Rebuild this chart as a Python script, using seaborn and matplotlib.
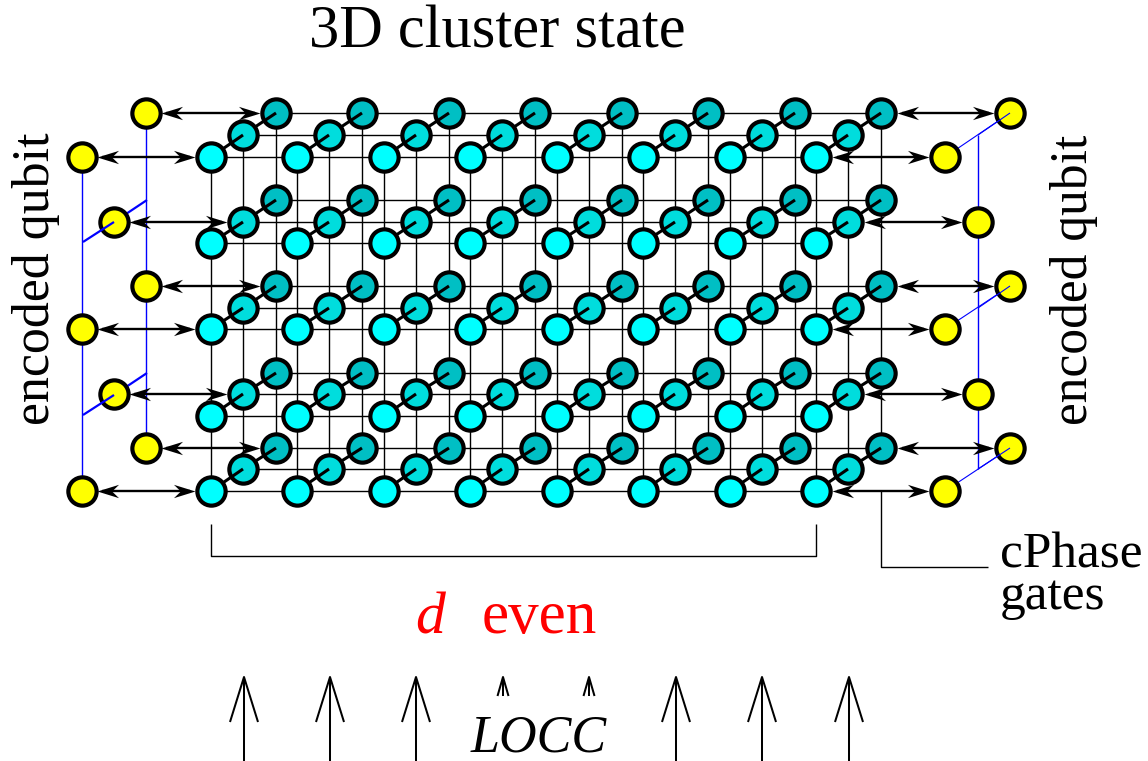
import numpy as np
import pandas as pd
import matplotlib.pyplot as plt
from matplotlib.path import Path
import seaborn as sns

# lattice, in image pixels
front_cols = [211, 297, 384, 470, 557, 643, 730, 816]
depth_dx = [0, 32, 65]
front_rows = [157, 243, 329, 416, 491]
mid_rows = [135, 222, 308, 394, 469]
back_rows = [113, 200, 286, 373, 448]
rows_by_depth = [front_rows, mid_rows, back_rows]
node_colors = ['#00ffff', '#00dddd', '#00bfc4']

left_yellow_x = [82, 114, 146]
right_yellow_x = [945, 978, 1010]
yellow_rows = [[0, 2, 4], [1, 3], [0, 2, 4]]

long_arrow_x = [244, 330, 416, 676, 762, 849]
short_arrow_x = [503, 589]

sns.set_theme(style='white')
plt.rcParams['font.family'] = ['Liberation Serif', 'DejaVu Serif']

fig = plt.figure(figsize=(11.48, 7.61), dpi=100)
ax = fig.add_axes([0, 0, 1, 1])
ax.set_xlim(0, 1148)
ax.set_ylim(761, 0)
ax.axis('off')

NODE_S = 415
NODE_LW = 3.0
GRID_LW = 1.0
BLUE = '#0000ff'

# stealth arrow heads, tip at the origin
head_r = Path([(0, 0), (-1, 0.31), (-0.68, 0), (-1, -0.31), (0, 0)], closed=True)
head_l = Path([(0, 0), (1, 0.31), (0.68, 0), (1, -0.31), (0, 0)], closed=True)


def line(xs, ys, z, color='black', lw=GRID_LW):
    ax.plot(xs, ys, color=color, lw=lw, zorder=z, solid_capstyle='butt')


def nodes(xs, ys, color, z):
    df = pd.DataFrame({'x': xs, 'y': ys})
    sns.scatterplot(data=df, x='x', y='y', s=NODE_S, color=color, edgecolor='black',
                    linewidth=NODE_LW, zorder=z, ax=ax, clip_on=False)


# grid of every layer
for d, rows in enumerate(rows_by_depth):
    cols = [c + depth_dx[d] for c in front_cols]
    for y in rows:
        line([cols[0], cols[-1]], [y, y], 1)
    for x in cols:
        line([x, x], [rows[0], rows[-1]], 1)

# blue encoded-qubit links
line([left_yellow_x[0]] * 2, [157, 491], 1.5, BLUE, 1.0)
line([left_yellow_x[2]] * 2, [113, 448], 1.5, BLUE, 1.0)
line([right_yellow_x[1]] * 2, [135, 469], 1.5, BLUE, 1.0)
for y in [222, 395]:
    line([114, 147], [y, y - 22], 1.5, BLUE, 1.6)
for y0, y1 in [(157, 113), (329, 286), (491, 448)]:
    line([945, 1010], [y0, y1], 1.5, BLUE, 0.8)

# layers back to front, with the diagonal bonds between them
cols_back = [c + depth_dx[2] for c in front_cols]
cols_mid = [c + depth_dx[1] for c in front_cols]
nodes(np.repeat(cols_back, 5), np.tile(back_rows, 8), node_colors[2], 2)
for c in front_cols:
    for r in range(5):
        line([c + depth_dx[2], c + depth_dx[1]], [back_rows[r], mid_rows[r]], 3, lw=2.2)
nodes(np.repeat(cols_mid, 5), np.tile(mid_rows, 8), node_colors[1], 4)
for c in front_cols:
    for r in range(5):
        line([c + depth_dx[1], c], [mid_rows[r], front_rows[r]], 5, lw=2.2)
nodes(np.repeat(front_cols, 5), np.tile(front_rows, 8), node_colors[0], 6)

# yellow qubits
for d, rows in enumerate(rows_by_depth):
    ys = [rows[i] for i in yellow_rows[d]]
    nodes([left_yellow_x[d]] * len(ys), ys, '#ffff00', 2)
    nodes([right_yellow_x[d]] * len(ys), ys, '#ffff00', 2)

# blue bits drawn over the yellow discs
for y in [222, 395]:
    line([83, 114], [y + 20, y], 3, BLUE, 1.6)
for y0, y1 in [(135, 113), (308, 286), (469, 448)]:
    line([978, 1010], [y0, y1], 3, BLUE, 0.8)


def double_arrow(x0, x1, y):
    line([x0 + 5, x1 - 5], [y, y], 7, lw=1.7)
    ax.plot([x0], [y], marker=head_l, ms=31, color='black', mew=0, zorder=8)
    ax.plot([x1], [y], marker=head_r, ms=31, color='black', mew=0, zorder=8)


for d, rows in enumerate(rows_by_depth):
    for i in yellow_rows[d]:
        y = rows[i]
        double_arrow(left_yellow_x[d] + 15, front_cols[0] + depth_dx[d] - 16, y)
        double_arrow(front_cols[-1] + depth_dx[d] + 16, right_yellow_x[d] - 16, y)

# brackets
line([211, 211, 816, 816], [524, 556, 556, 524], 1, lw=1.0)
line([881, 881, 988], [491, 567, 567], 1, lw=1.0)

# LOCC arrows
for x in long_arrow_x:
    line([x, x], [761, 680], 2, lw=1.45)
    line([x - 14, x, x + 14], [722, 677, 722], 2, lw=1.45)
for x in short_arrow_x:
    line([x, x], [696, 680], 2, lw=1.45)
    line([x - 5.5, x, x + 5.5], [696, 677, 696], 2, lw=1.45)

# text
ax.text(497, 48, '3D cluster state', fontsize=43.6, ha='center', va='baseline', color='black')
ax.text(49, 425, 'encoded qubit', fontsize=37.4, rotation=90, ha='left', va='baseline',
        rotation_mode='anchor', color='black')
ax.text(1087, 425, 'encoded qubit', fontsize=37.1, rotation=90, ha='left', va='baseline',
        rotation_mode='anchor', color='black')
ax.text(1000, 567, 'cPhase', fontsize=37, ha='left', va='baseline', color='black')
ax.text(1000, 609, 'gates', fontsize=37, ha='left', va='baseline', color='black')
ax.text(415, 633, 'd', fontsize=43, style='italic', ha='left', va='baseline', color='#ff0000')
ax.text(482, 633, 'even', fontsize=44, ha='left', va='baseline', color='#ff0000')
ax.text(471, 751, 'LOCC', fontsize=37.5, style='italic', ha='left', va='baseline', color='black')

fig.savefig('out.png', dpi=100)
